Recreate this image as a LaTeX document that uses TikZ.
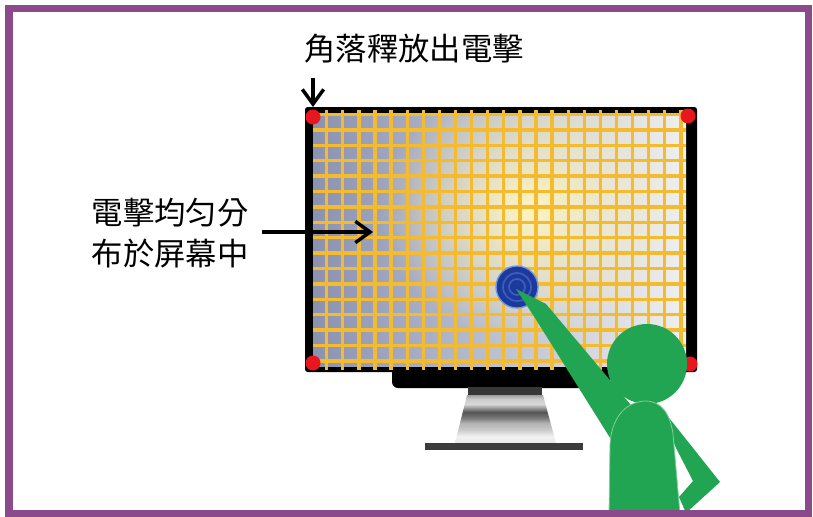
\documentclass[tikz,border=0pt]{standalone}
\usepackage{fontspec}
\newfontfamily\cjkfont{Noto Sans CJK TC}
\usetikzlibrary{arrows.meta,fadings}

\definecolor{framepurple}{RGB}{139,74,140}
\definecolor{gridyellow}{RGB}{244,186,48}
\definecolor{dotred}{RGB}{232,22,30}
\definecolor{figgreen}{RGB}{34,165,83}
\definecolor{figedge}{RGB}{130,205,155}
\definecolor{tapblue}{RGB}{28,58,155}
\definecolor{tapring}{RGB}{62,92,192}
\definecolor{taphalo}{RGB}{110,150,225}
\definecolor{screenL}{RGB}{138,146,176}
\definecolor{screenM}{RGB}{215,218,228}
\definecolor{screenR}{RGB}{240,240,238}
\definecolor{glow}{RGB}{255,244,190}
\definecolor{neckgray}{RGB}{55,55,55}
\definecolor{basegray}{RGB}{60,60,60}

% grey bands of the monitor stand, bottom to top
\pgfdeclareverticalshading{standshade}{100bp}{
 rgb(0bp)=(0.91,0.91,0.91);
 rgb(25bp)=(0.91,0.91,0.91);
 rgb(32bp)=(0.95,0.95,0.95);
 rgb(38.5bp)=(0.80,0.80,0.80);
 rgb(45.8bp)=(0.70,0.70,0.70);
 rgb(51bp)=(0.48,0.48,0.48);
 rgb(57.3bp)=(0.33,0.33,0.33);
 rgb(61.5bp)=(0.60,0.60,0.60);
 rgb(65.6bp)=(0.85,0.85,0.85);
 rgb(70.8bp)=(0.80,0.80,0.80);
 rgb(75bp)=(0.62,0.62,0.62);
 rgb(100bp)=(0.62,0.62,0.62)}

\tikzfading[name=glowfade, inner color=transparent!0, outer color=transparent!100]

\tikzset{
  gridline/.style={gridyellow, line width=2.5pt},
  corner/.style={fill=dotred},
  figure/.style={fill=figgreen},
  callout/.style={black, line width=2.6pt, -{Straight Barb[length=11pt,width=16pt,line width=2.6pt]}},
  caption/.style={font=\cjkfont\fontsize{23.5}{30.8}\selectfont, text=black, inner sep=0pt, align=left}
}

\begin{document}
\begin{tikzpicture}[x=0.75pt,y=-0.75pt]
\useasboundingbox (0,0) rectangle (813,517);
\fill[white] (0,0) rectangle (813,517);

% monitor chin and stand
\fill[black, rounded corners=4.5pt] (392,360) rectangle (610,388);
\fill[neckgray] (468,387) rectangle (542,395);
\shade[shading=standshade] (467,395) -- (543,395) -- (556,443) -- (455,443) -- cycle;
\fill[basegray] (425,443) rectangle (583,450);

% monitor frame and screen
\fill[black, rounded corners=2pt] (305,107) rectangle (697,372);
\shade[left color=screenL, middle color=screenM, right color=screenR] (313,114) rectangle (686,366);
\begin{scope}
  \clip (313,114) rectangle (686,366);
  \fill[glow, path fading=glowfade] (530,210) ellipse [x radius=150, y radius=130];
\end{scope}

% electrode grid
\begin{scope}
  \clip (313,110) rectangle (686,369);
  \foreach \k in {1,...,23}
    \draw[gridline] ({310.6+16.1*\k},108) -- ({310.6+16.1*\k},372);
  \foreach \k in {0,...,16}
    \draw[gridline] (313,{114.5+15.4*\k}) -- (686,{114.5+15.4*\k});
\end{scope}

% corner emitters
\fill[corner] (313,117) circle[radius=7.5];
\fill[corner] (688,116) circle[radius=7.5];
\fill[corner] (313,363) circle[radius=7.5];
\fill[corner] (690,364) circle[radius=7.5];

% touch point
\fill[tapblue] (517,287) circle[radius=21];
\draw[taphalo, line width=1pt] (517,287) circle[radius=21];
\draw[tapring, line width=1.3pt] (517,287) circle[radius=14];
\draw[tapring, line width=1.3pt] (517,287) circle[radius=8];

% person pointing at the screen
\fill[figure] (516,289) -- (546,304) -- (641,417) -- (612,441) -- (535,318) -- cycle;
\fill[figure] (658,404) -- (720,482) -- (686,513) -- (679,497) -- (693,481) -- (676,448) -- cycle;
\fill[figure] (647,364) circle[radius=40];
\filldraw[figure, draw=figedge, line width=0.6pt]
  (609,514) -- (610,445) .. controls (611,420) and (624,402) .. (645,401)
  .. controls (662,401) and (670,414) .. (673,434) -- (680,514) -- cycle;

% outer border
\draw[framepurple, line width=5.6pt] (9,8.5) rectangle (808.5,513.5);

% labels and arrows
\node[caption] (topnote) at (414,49) {角落釋放出電擊};
\node[caption] (sidenote) at (170,233.5) {電擊均匀分\\布於屏幕中};
\coordinate (toptail) at (313,78);
\coordinate (toptip) at (313,107);
\coordinate (sidetail) at (262,232);
\coordinate (sidetip) at (373,232);
\draw[callout] (toptail) -- (toptip);
\draw[callout] (sidetail) -- (sidetip);
\end{tikzpicture}
\end{document}
